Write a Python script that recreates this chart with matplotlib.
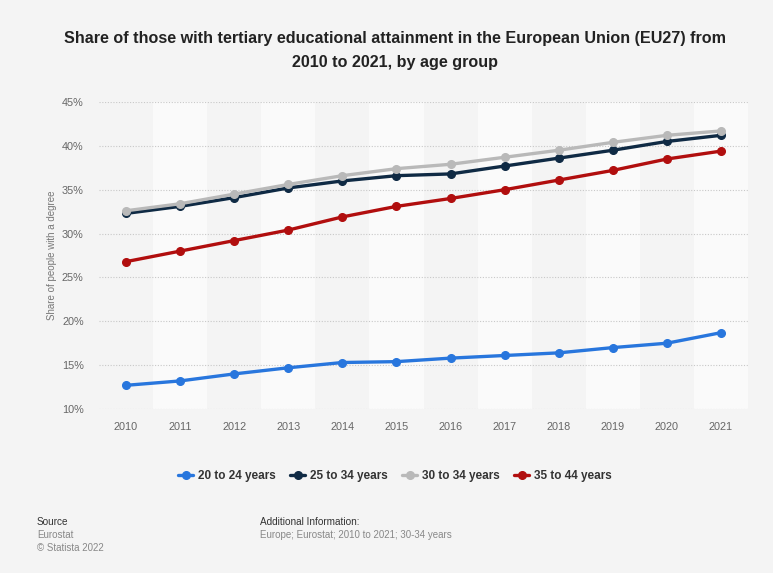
import matplotlib
matplotlib.use("Agg")
import matplotlib.pyplot as plt
import numpy as np

plt.rcParams['font.family'] = ['Liberation Sans', 'DejaVu Sans']

years = [2010, 2011, 2012, 2013, 2014, 2015, 2016, 2017, 2018, 2019, 2020, 2021]
age_20_24 = [12.7, 13.2, 14.0, 14.7, 15.3, 15.4, 15.8, 16.1, 16.4, 17.0, 17.5, 18.7]
age_25_34 = [32.3, 33.1, 34.1, 35.2, 36.0, 36.6, 36.8, 37.7, 38.6, 39.5, 40.5, 41.2]
age_30_34 = [32.6, 33.4, 34.5, 35.6, 36.6, 37.4, 37.9, 38.7, 39.5, 40.4, 41.2, 41.7]
age_35_44 = [26.8, 28.0, 29.2, 30.4, 31.9, 33.1, 34.0, 35.0, 36.1, 37.2, 38.5, 39.4]

series_labels = ["20 to 24 years", "25 to 34 years", "30 to 34 years", "35 to 44 years"]
series_values = [age_20_24, age_25_34, age_30_34, age_35_44]
series_colors = ["#2876dd", "#0f2a44", "#b9b9b9", "#b10e0e"]

y_ticks = [10, 15, 20, 25, 30, 35, 40, 45]
y_tick_labels = [f"{t}%" for t in y_ticks]

bg = "#f4f4f4"
fig = plt.figure(figsize=(7.73, 5.73), dpi=100, facecolor=bg)
ax = fig.add_axes([99/773, 1 - 409/573, (748 - 99)/773, (409 - 102)/573])
ax.set_facecolor(bg)

# alternating column bands
for i, yr in enumerate(years):
    if i % 2 == 1:
        ax.axvspan(yr - 0.5, yr + 0.5, color="#fafafa", zorder=0, lw=0)

ax.set_xlim(years[0] - 0.5, years[-1] + 0.5)
ax.set_ylim(10, 45)
ax.set_yticks(y_ticks)
ax.set_yticklabels(y_tick_labels)
ax.set_xticks(years)
ax.set_xticklabels([str(y) for y in years])
ax.grid(axis='y', color="#c8c8c8", linestyle=(0, (1, 1.5)), linewidth=0.8, zorder=1)
ax.grid(axis='x', visible=False)
for s in ax.spines.values():
    s.set_visible(False)
ax.tick_params(axis='both', length=0, labelsize=7.8, colors="#666666")
ax.tick_params(axis='y', pad=11)
ax.tick_params(axis='x', pad=9)

handles = []
for lab, vals, col in zip(series_labels, series_values, series_colors):
    h, = ax.plot(years, vals, color=col, lw=2.4, marker='o', markersize=5.5,
                 label=lab, zorder=3, solid_capstyle='round')
    handles.append(h)

ax.set_ylabel("Share of people with a degree", fontsize=7, color="#777777")
ax.yaxis.set_label_coords(-0.064, 0.5)

title_kw = dict(ha='center', va='center', fontsize=11.6, fontweight='bold', color="#222222")
fig.text(0.511, 1 - 38.5/573, "Share of those with tertiary educational attainment in the European Union (EU27) from", **title_kw)
fig.text(0.511, 1 - 62/573, "2010 to 2021, by age group", **title_kw)

leg = fig.legend(handles=handles, labels=series_labels, loc='center', ncol=4,
                 bbox_to_anchor=(0.511, 1 - 476/573), frameon=False, fontsize=8.5,
                 handlelength=1.3, handletextpad=0.4, columnspacing=1.2)
for t in leg.get_texts():
    t.set_fontweight('bold')
    t.set_color("#333333")

fig.text(37/773, 1 - 522/573, "Source", fontsize=7.2, color="#333333", va='center')
fig.text(37/773, 1 - 535/573, "Eurostat", fontsize=7, color="#888888", va='center')
fig.text(37/773, 1 - 548/573, "© Statista 2022", fontsize=7, color="#888888", va='center')
fig.text(260/773, 1 - 522/573, "Additional Information:", fontsize=7.2, color="#333333", va='center')
fig.text(260/773, 1 - 535/573, "Europe; Eurostat; 2010 to 2021; 30-34 years", fontsize=7, color="#888888", va='center')

fig.savefig("out.png", dpi=100, facecolor=bg)
